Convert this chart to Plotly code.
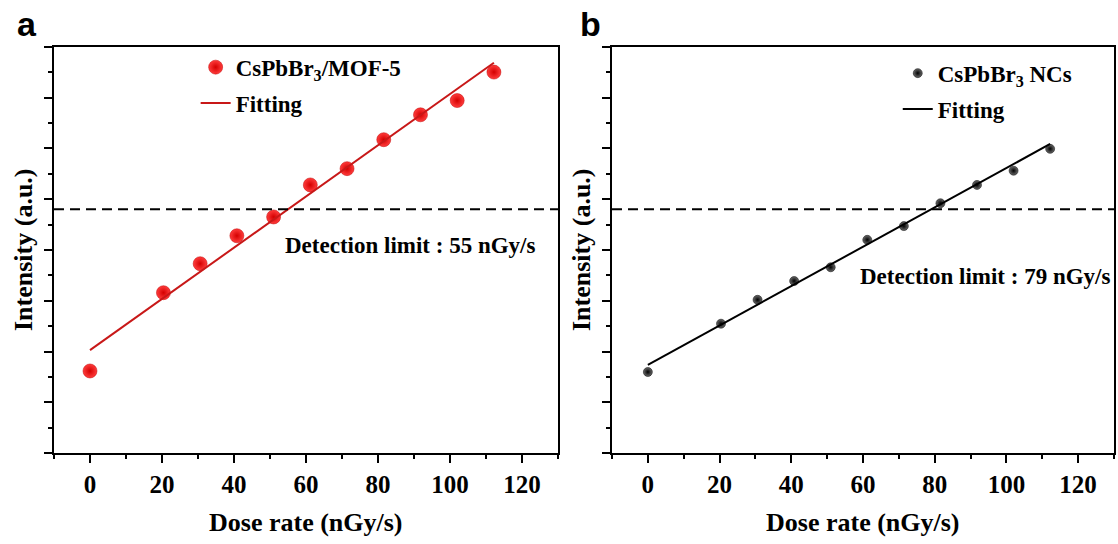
import plotly.graph_objects as go

# Dose rates (nGy/s) and integrated intensity (a.u.)
dose = [0, 20.4, 30.6, 40.8, 51.0, 61.2, 71.4, 81.6, 91.8, 102.0, 112.2]
intensity_mof = [1.62, 3.16, 3.73, 4.28, 4.65, 5.28, 5.60, 6.17, 6.66, 6.94, 7.50]
intensity_ncs = [1.60, 2.55, 3.02, 3.39, 3.66, 4.20, 4.47, 4.92, 5.28, 5.56, 5.99]

# Linear fits: intensity = intercept + slope * dose
fit_mof = {"intercept": 2.03, "slope": 0.0504}
fit_ncs = {"intercept": 1.74, "slope": 0.03873}
fit_range = [0, 112.2]

# Noise-equivalent intensity level (dashed line) and detection limits
noise_level = 4.80
limit_mof = 55
limit_ncs = 79

x_ticks = [0, 20, 40, 60, 80, 100, 120]

SERIF = "Liberation Serif"


def fit_line(fit):
    return [fit["intercept"] + fit["slope"] * x for x in fit_range]


fig = go.Figure()

fig.add_trace(go.Scatter(
    x=dose, y=intensity_mof, mode="markers", name="CsPbBr<sub>3</sub>/MOF-5",
    marker=dict(size=14, color="#ff3c3c", gradient=dict(type="radial", color="#d40000"),
                line=dict(width=0.5, color="#c00000")),
    xaxis="x", yaxis="y", legend="legend", legendgroup="a1"))
fig.add_trace(go.Scatter(
    x=fit_range, y=fit_line(fit_mof), mode="lines", name="Fitting",
    line=dict(color="#c81818", width=2), xaxis="x", yaxis="y",
    legend="legend", legendgroup="a2"))

fig.add_trace(go.Scatter(
    x=dose, y=intensity_ncs, mode="markers", name="CsPbBr<sub>3</sub> NCs",
    marker=dict(size=9, color="#6a6a6a", gradient=dict(type="radial", color="#000000"),
                line=dict(width=0.5, color="#000000")),
    xaxis="x2", yaxis="y2", legend="legend2", legendgroup="b1"))
fig.add_trace(go.Scatter(
    x=fit_range, y=fit_line(fit_ncs), mode="lines", name="Fitting",
    line=dict(color="#000000", width=2), xaxis="x2", yaxis="y2",
    legend="legend2", legendgroup="b2"))

axis_common = dict(
    showgrid=False, zeroline=False, showline=True, linecolor="black", linewidth=2,
    mirror=True, ticks="outside", ticklen=8, tickwidth=2, tickcolor="black",
)

xaxis_common = dict(
    axis_common, range=[-10, 130], tickmode="array", tickvals=x_ticks,
    tickfont=dict(family=SERIF, size=25, color="black", weight="bold"),
    minor=dict(dtick=10, tick0=0, ticks="outside", ticklen=4, tickwidth=2, tickcolor="black"),
)
yaxis_common = dict(
    axis_common, range=[0, 8], dtick=1, tick0=0, showticklabels=False,
    minor=dict(dtick=0.5, ticks="outside", ticklen=4, tickwidth=2, tickcolor="black"),
)

legend_common = dict(
    font=dict(family=SERIF, size=23, color="black", weight="bold"),
    bgcolor="rgba(0,0,0,0)", borderwidth=0, tracegroupgap=3,
    xanchor="left", yanchor="top",
)

fig.update_layout(
    width=1118, height=544,
    margin=dict(l=0, r=0, t=0, b=0),
    paper_bgcolor="white", plot_bgcolor="white",
    xaxis=dict(xaxis_common, domain=[0.0483, 0.4991], anchor="y"),
    yaxis=dict(yaxis_common, domain=[0.1667, 0.9142], anchor="x"),
    xaxis2=dict(xaxis_common, domain=[0.5474, 0.9964], anchor="y2"),
    yaxis2=dict(yaxis_common, domain=[0.1667, 0.9142], anchor="x2"),
    legend=dict(legend_common, x=0.175, y=0.916),
    legend2=dict(legend_common, x=0.803, y=0.905),
    showlegend=True,
)

# Noise level
for xr, yr in (("x domain", "y"), ("x2 domain", "y2")):
    fig.add_shape(type="line", xref=xr, yref=yr, x0=0, x1=1, y0=noise_level, y1=noise_level,
                  line=dict(color="black", width=2, dash="10px,6px"))

label_font = dict(family=SERIF, size=23, color="black", weight="bold")
title_font = dict(family=SERIF, size=26, color="black", weight="bold")
panel_font = dict(family="Liberation Sans", size=34, color="black", weight="bold")

annotations = [
    dict(text=f"Detection limit : {limit_mof} nGy/s", xref="x domain", yref="y domain",
         x=0.454, y=0.512, xanchor="left", yanchor="middle", showarrow=False, font=label_font),
    dict(text=f"Detection limit : {limit_ncs} nGy/s", xref="x2 domain", yref="y2 domain",
         x=0.49, y=0.434, xanchor="left", yanchor="middle", showarrow=False, font=label_font),
    dict(text="Dose rate (nGy/s)", xref="x domain", yref="paper", x=0.5, y=1 - 522 / 544,
         xanchor="center", yanchor="middle", showarrow=False, font=title_font),
    dict(text="Dose rate (nGy/s)", xref="x2 domain", yref="paper", x=0.5, y=1 - 522 / 544,
         xanchor="center", yanchor="middle", showarrow=False, font=title_font),
    dict(text="Intensity (a.u.)", xref="paper", yref="y domain", x=24 / 1118, y=0.5,
         xanchor="center", yanchor="middle", textangle=-90, showarrow=False, font=title_font),
    dict(text="Intensity (a.u.)", xref="paper", yref="y2 domain", x=582 / 1118, y=0.5,
         xanchor="center", yanchor="middle", textangle=-90, showarrow=False, font=title_font),
    dict(text="a", xref="paper", yref="paper", x=27 / 1118, y=1 - 24 / 544,
         xanchor="center", yanchor="middle", showarrow=False, font=panel_font),
    dict(text="b", xref="paper", yref="paper", x=590 / 1118, y=1 - 24 / 544,
         xanchor="center", yanchor="middle", showarrow=False, font=panel_font),
]
fig.update_layout(annotations=annotations)

fig.write_html("out.html")
